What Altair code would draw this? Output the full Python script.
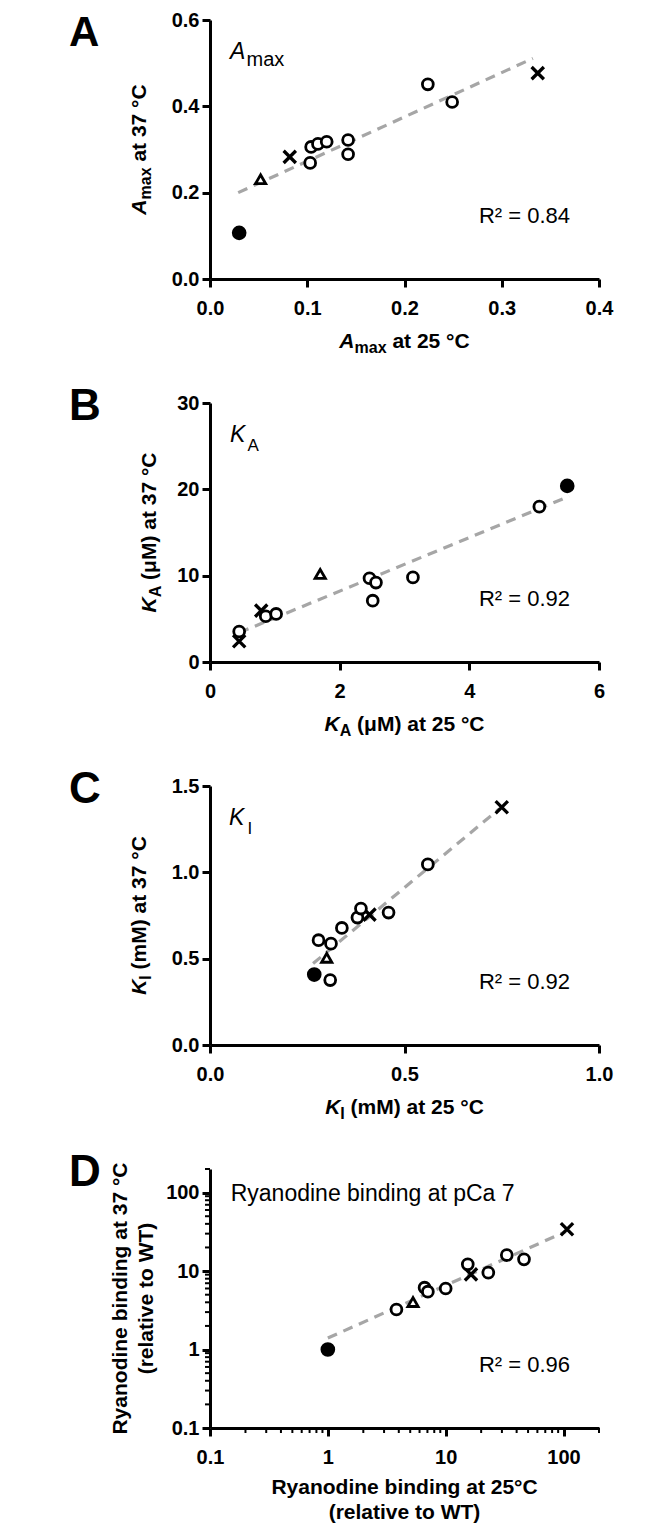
import altair as alt
import pandas as pd

FONT = "Liberation Sans"
W, H = 389, 259

# ---------------- data ----------------
# Panel A: Amax
a_x25 = [0.030, 0.052, 0.082, 0.103, 0.104, 0.111, 0.120, 0.142, 0.142, 0.224, 0.249, 0.337]
a_y37 = [0.107, 0.231, 0.283, 0.269, 0.306, 0.313, 0.318, 0.322, 0.289, 0.451, 0.410, 0.477]
a_kind = ["filled", "triangle", "cross", "open", "open", "open", "open", "open", "open", "open", "open", "cross"]
a_fit_x = [0.029, 0.332]
a_fit_y = [0.200, 0.511]

# Panel B: KA (uM)
b_x25 = [5.51, 5.08, 3.13, 2.46, 2.56, 2.51, 1.70, 0.86, 1.02, 0.79, 0.45, 0.45]
b_y37 = [20.4, 18.0, 9.8, 9.7, 9.2, 7.1, 10.2, 5.3, 5.57, 5.95, 3.53, 2.4]
b_kind = ["filled", "open", "open", "open", "open", "open", "triangle", "open", "open", "cross", "open", "cross"]
b_fit_x = [0.45, 5.54]
b_fit_y = [3.4, 19.2]

# Panel C: KI (mM)
c_x25 = [0.268, 0.309, 0.300, 0.279, 0.311, 0.339, 0.379, 0.388, 0.410, 0.459, 0.560, 0.750]
c_y37 = [0.408, 0.376, 0.505, 0.607, 0.587, 0.678, 0.738, 0.790, 0.755, 0.767, 1.046, 1.377]
c_kind = ["filled", "open", "triangle", "open", "open", "open", "open", "open", "cross", "open", "open", "cross"]
c_fit_x = [0.265, 0.744]
c_fit_y = [0.472, 1.368]

# Panel D: ryanodine binding (relative to WT), log-log
d_x25 = [1.0, 3.82, 5.28, 6.62, 7.06, 10.0, 15.4, 16.4, 23.0, 33.0, 46.2, 107.0]
d_y37 = [1.0, 3.24, 4.03, 6.14, 5.46, 6.0, 12.2, 9.08, 9.55, 16.0, 14.1, 34.1]
d_kind = ["filled", "open", "triangle", "open", "open", "open", "open", "cross", "open", "open", "open", "cross"]
d_fit_x = [1.0, 105.0]
d_fit_y = [1.4, 32.0]

# axis ticks
a_xticks = [0.0, 0.1, 0.2, 0.3, 0.4]
a_yticks = [0.0, 0.2, 0.4, 0.6]
b_xticks = [0, 2, 4, 6]
b_yticks = [0, 10, 20, 30]
c_xticks = [0.0, 0.5, 1.0]
c_yticks = [0.0, 0.5, 1.0, 1.5]
d_ticks = [0.1, 1, 10, 100]
d_minor = [0.2, 0.3, 0.4, 0.5, 0.6, 0.7, 0.8, 0.9,
           2, 3, 4, 5, 6, 7, 8, 9,
           20, 30, 40, 50, 60, 70, 80, 90, 200]

r2_texts = ["R² = 0.84", "R² = 0.92", "R² = 0.92", "R² = 0.96"]

# ---------------- helpers ----------------
BOLD_W = {'A': .722, 'm': .889, 'a': .556, 'x': .556, ' ': .278, 't': .333,
          '2': .556, '5': .556, '3': .556, '7': .556, '°': .4, 'C': .722,
          'K': .722, '(': .333, 'μ': .611, 'M': .833, ')': .333, 'I': .278}


def tw(s, size):
    return sum(BOLD_W.get(ch, .556) for ch in s) * size


ONE = pd.DataFrame({"o": [0]})


def txt(s, x, y, size, weight="normal", style="normal", align="left",
        baseline="alphabetic", angle=0):
    return alt.Chart(ONE).mark_text(
        text=s, font=FONT, fontSize=size, fontWeight=weight, fontStyle=style,
        align=align, baseline=baseline, angle=angle, color="black"
    ).encode(x=alt.value(x), y=alt.value(y))


def htitle(pieces, cx, y, main=21, sub=16, shift=5):
    items, total = [], 0
    for s, it, sb in pieces:
        size = sub if sb else main
        lead = len(s) - len(s.lstrip(' '))
        items.append((s.lstrip(' '), it, sb, size, lead * .278 * size))
        total += tw(s, size)
    x = cx - total / 2
    out = []
    for s, it, sb, size, lead in items:
        x += lead
        out.append(txt(s, x, y + (shift if sb else 0), size, "bold",
                       "italic" if it else "normal"))
        x += tw(s, size)
    return out


def vtitle(pieces, bx, cy, main=21, sub=16, shift=5):
    items, total = [], 0
    for s, it, sb in pieces:
        size = sub if sb else main
        lead = len(s) - len(s.lstrip(' '))
        items.append((s.lstrip(' '), it, sb, size, lead * .278 * size))
        total += tw(s, size)
    y = cy + total / 2
    out = []
    for s, it, sb, size, lead in items:
        y -= lead
        out.append(txt(s, bx + (shift if sb else 0), y, size, "bold",
                       "italic" if it else "normal", angle=270))
        y -= tw(s, size)
    return out


def make_axis(values, fmt, is_x):
    return alt.Axis(values=values, format=fmt, title=None, grid=False,
                    labelFont=FONT, labelFontSize=20, labelFontWeight="bold",
                    labelColor="black", domainColor="black", domainWidth=3,
                    tickColor="black", tickWidth=3, tickSize=8,
                    labelPadding=11 if is_x else 3, labelOverlap=False,
                    labelBound=False, labelFlush=False)


def panel(xs, ys, kinds, fx, fy, xscale, yscale, xaxis, yaxis, extras):
    df = pd.DataFrame({"x": xs, "y": ys, "kind": kinds})
    fit = pd.DataFrame({"x": fx, "y": fy})
    X = alt.X("x:Q", scale=xscale, axis=xaxis)
    Y = alt.Y("y:Q", scale=yscale, axis=yaxis)
    line = alt.Chart(fit).mark_line(color="#a6a6a6", strokeWidth=3.2,
                                    strokeDash=[10, 7]).encode(X, Y)
    base = alt.Chart(df).encode(X, Y)
    cross = base.transform_filter("datum.kind == 'cross'").mark_point(
        shape="M-1,-1L1,1M-1,1L1,-1", filled=False, stroke="black",
        strokeWidth=3.3, size=150, opacity=1)
    tri = base.transform_filter("datum.kind == 'triangle'").mark_point(
        shape="triangle-up", filled=True, fill="white", stroke="black",
        strokeWidth=2.8, size=105, opacity=1)
    opn = base.transform_filter("datum.kind == 'open'").mark_point(
        shape="circle", filled=True, fill="white", stroke="black",
        strokeWidth=2.8, size=118, opacity=1)
    fil = base.transform_filter("datum.kind == 'filled'").mark_point(
        shape="circle", filled=True, fill="black", stroke="black",
        strokeWidth=2, size=160, opacity=1)
    return alt.layer(line, cross, tri, opn, fil, *extras).properties(width=W, height=H)


def letter(s, base=16.7, size=44):
    return txt(s, -141, base, size, "bold")


def r2(s):
    return txt(s, 360, 203, 22, align="right")


# ---------------- panel A ----------------
extrasA = [
    letter("A", 26, 42),
    txt("A", 20, 39.3, 23, style="italic"),
    txt("max", 36.5, 46, 20),
    r2(r2_texts[0]),
] + htitle([("A", True, False), ("max", False, True), (" at 25 °C", False, False)], W / 2, H + 69) \
  + vtitle([("A", True, False), ("max", False, True), (" at 37 °C", False, False)], -64, H / 2)

pA = panel(a_x25, a_y37, a_kind, a_fit_x, a_fit_y,
           alt.Scale(domain=[0, 0.4], nice=False, zero=False),
           alt.Scale(domain=[0, 0.6], nice=False, zero=False),
           make_axis(a_xticks, ".1f", True), make_axis(a_yticks, ".1f", False), extrasA)

# ---------------- panel B ----------------
extrasB = [
    letter("B"),
    txt("K", 20, 39.3, 23, style="italic"),
    txt("A", 37.5, 47.7, 17),
    r2(r2_texts[1]),
] + htitle([("K", True, False), ("A", False, True), (" (μM) at 25 °C", False, False)], W / 2, H + 69) \
  + vtitle([("K", True, False), ("A", False, True), (" (μM) at 37 °C", False, False)], -54, H / 2)

pB = panel(b_x25, b_y37, b_kind, b_fit_x, b_fit_y,
           alt.Scale(domain=[0, 6], nice=False, zero=False),
           alt.Scale(domain=[0, 30], nice=False, zero=False),
           make_axis(b_xticks, "d", True), make_axis(b_yticks, "d", False), extrasB)

# ---------------- panel C ----------------
extrasC = [
    letter("C"),
    txt("K", 19, 38.7, 23, style="italic"),
    txt("I", 37.5, 47.7, 17),
    r2(r2_texts[2]),
] + htitle([("K", True, False), ("I", False, True), (" (mM) at 25 °C", False, False)], W / 2, H + 69) \
  + vtitle([("K", True, False), ("I", False, True), (" (mM) at 37 °C", False, False)], -64, H / 2)

pC = panel(c_x25, c_y37, c_kind, c_fit_x, c_fit_y,
           alt.Scale(domain=[0, 1], nice=False, zero=False),
           alt.Scale(domain=[0, 1.5], nice=False, zero=False),
           make_axis(c_xticks, ".1f", True), make_axis(c_yticks, ".1f", False), extrasC)

# ---------------- panel D ----------------
d_xscale = alt.Scale(type="log", domain=[0.1, 200], nice=False)
d_yscale = alt.Scale(type="log", domain=[0.1, 200], nice=False)
minor_df = pd.DataFrame({"v": d_minor})
minor_x = alt.Chart(minor_df).mark_rule(color="black", strokeWidth=2).encode(
    x=alt.X("v:Q", scale=d_xscale, axis=make_axis(d_ticks, "~g", True)),
    y=alt.value(H), y2=alt.value(H + 5))
minor_y = alt.Chart(minor_df).mark_rule(color="black", strokeWidth=2).encode(
    y=alt.Y("v:Q", scale=d_yscale, axis=make_axis(d_ticks, "~g", False)),
    x=alt.value(-5), x2=alt.value(0))

extrasD = [
    minor_x, minor_y,
    letter("D"),
    txt("Ryanodine binding at pCa 7", 20.7, 32.3, 23),
    r2(r2_texts[3]),
    txt("Ryanodine binding at 25°C", W / 2, H + 66, 21, "bold", align="center"),
    txt("(relative to WT)", W / 2, H + 91, 21, "bold", align="center"),
    txt("Ryanodine binding at 37 °C", -83, H / 2, 21, "bold", align="center", angle=270),
    txt("(relative to WT)", -57, H / 2, 21, "bold", align="center", angle=270),
]

pD = panel(d_x25, d_y37, d_kind, d_fit_x, d_fit_y, d_xscale, d_yscale,
           make_axis(d_ticks, "~g", True), make_axis(d_ticks, "~g", False), extrasD)

chart = alt.vconcat(pA, pB, pC, pD, spacing=124, bounds="flush").properties(
    padding={"left": 61, "top": 2, "right": 5, "bottom": 5}
).configure_view(strokeWidth=0)

chart.save("out.html", embed_options={"renderer": "svg", "actions": False})
